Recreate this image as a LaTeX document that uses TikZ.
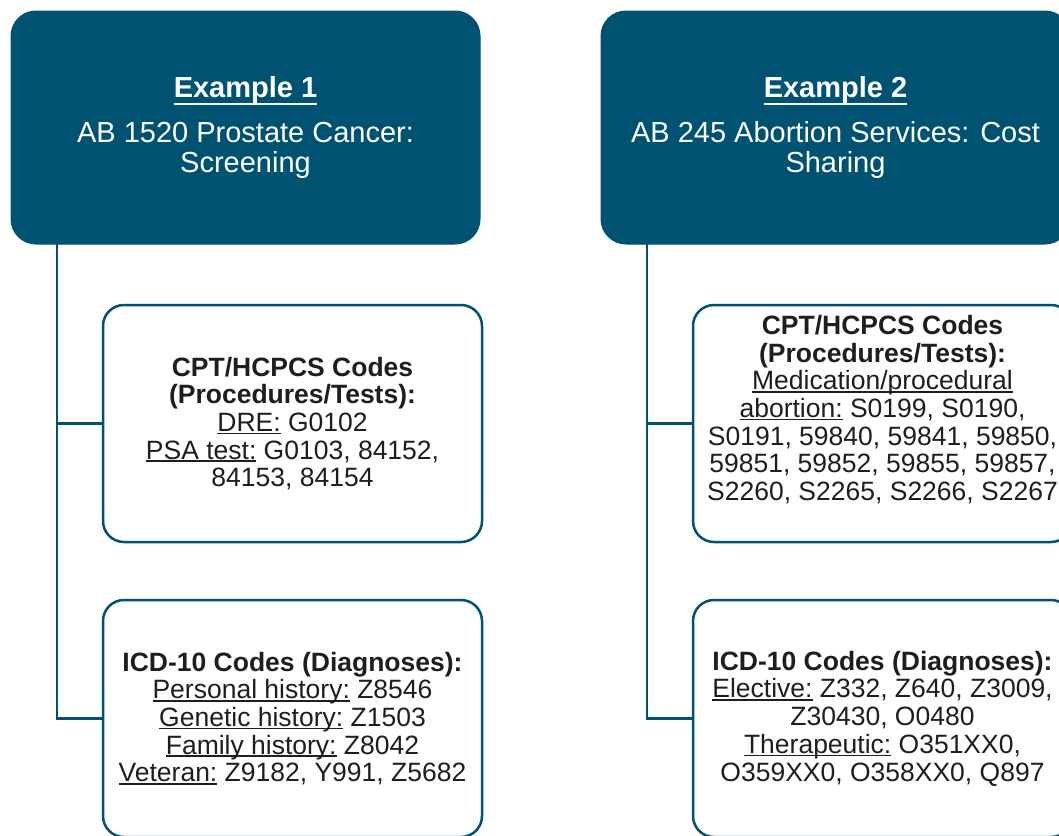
\documentclass[tikz,border=0pt]{standalone}
\usepackage{fontspec}
\setmainfont{Liberation Sans}
\usetikzlibrary{positioning}

\definecolor{hdrblue}{RGB}{0,82,114}
\definecolor{codetext}{RGB}{30,30,30}
\newcommand{\hdrfont}{\fontsize{29pt}{30.4pt}\selectfont}
\newcommand{\bodyfont}{\fontsize{26.5pt}{27.7pt}\selectfont}
% underlined label, rule close to the baseline
\newcommand{\ulabel}[2][0.11em]{\setbox0\hbox{#2}\rlap{\rule[-#1]{\wd0}{0.065em}}\box0\relax}

\begin{document}
\begin{tikzpicture}[
    x=1pt, y=-1pt,
    header/.style={rectangle, draw=hdrblue, fill=hdrblue, rounded corners=25pt, line width=1pt, minimum width=469pt, minimum height=233pt, inner sep=0pt, outer sep=0pt, align=center, text=white, font=\hdrfont},
    codebox/.style={rectangle, draw=hdrblue, fill=white, rounded corners=21pt, line width=2.5pt, minimum width=379pt, minimum height=237pt, inner sep=0pt, outer sep=0pt, align=center, text=codetext, font=\bodyfont},
    codetxt/.style={inner sep=0pt, align=center, text=codetext, font=\bodyfont},
    link/.style={draw=hdrblue, line width=2.5pt}
]
\useasboundingbox (0,0) rectangle (1059,835);
\clip (0,0) rectangle (1059,835);

% Example 1
\node[header] (hdr1) at (245.5,127.5) {\ulabel[0.24em]{\textbf{Example 1}}\\[14pt]AB 1520 Prostate Cancer:\\Screening};
\node[codebox] (cpt1) at (292.5,423.5) {\textbf{CPT/HCPCS Codes}\\\textbf{(Procedures/Tests):}\\\ulabel{DRE:} G0102\\\ulabel{PSA test:} G0103, 84152,\\84153, 84154};
\node[codebox, below=58pt of cpt1] (icd1) {\textbf{ICD-10 Codes (Diagnoses):}\\\ulabel{Personal history:} Z8546\\\ulabel{Genetic history:} Z1503\\\ulabel{Family history:} Z8042\\\ulabel{Veteran:} Z9182, Y991, Z5682};

% Example 2
\node[header, right=121pt of hdr1] (hdr2) {\ulabel[0.24em]{\textbf{Example 2}}\\[14pt]AB 245 Abortion Services: Cost\\Sharing};
\node[codebox, right=211pt of cpt1] (cpt2) {};
\node[codetxt] (cpt2txt) at ([yshift=14pt]cpt2.center) {\textbf{CPT/HCPCS Codes}\\\textbf{(Procedures/Tests):}\\\ulabel{Medication/procedural}\\\ulabel{abortion:} S0199, S0190,\\S0191, 59840, 59841, 59850,\\59851, 59852, 59855, 59857,\\S2260, S2265, S2266, S2267};
\node[codebox, below=58pt of cpt2] (icd2) {\textbf{ICD-10 Codes (Diagnoses):}\\\ulabel{Elective:} Z332, Z640, Z3009,\\Z30430, O0480\\\ulabel{Therapeutic:} O351XX0,\\O359XX0, O358XX0, Q897};

% Connectors
\coordinate (trunk1) at ([xshift=46pt]hdr1.south west);
\coordinate (trunk2) at ([xshift=46pt]hdr2.south west);
\draw[link] (trunk1) |- (icd1.west);
\draw[link] (cpt1.west) -- (cpt1.west -| trunk1);
\draw[link] (trunk2) |- (icd2.west);
\draw[link] (cpt2.west) -- (cpt2.west -| trunk2);

\end{tikzpicture}
\end{document}
